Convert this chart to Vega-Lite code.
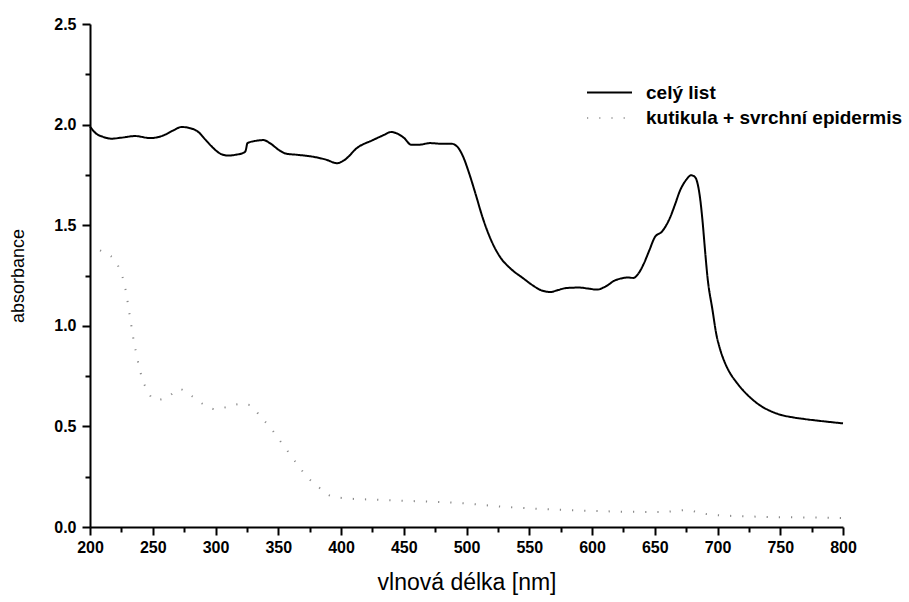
{
  "$schema": "https://vega.github.io/schema/vega-lite/v6.json",
  "width": 753,
  "height": 503,
  "autosize": "none",
  "padding": {"left": 90, "top": 24, "right": 66, "bottom": 75},
  "background": "white",
  "config": {
    "view": {"stroke": null},
    "font": "Liberation Sans"
  },
  "data": {
    "values": [
      {"s": "celý list", "nm": 200, "a": 1.99},
      {"s": "celý list", "nm": 205, "a": 1.955},
      {"s": "celý list", "nm": 210, "a": 1.94},
      {"s": "celý list", "nm": 217, "a": 1.93},
      {"s": "celý list", "nm": 225, "a": 1.935},
      {"s": "celý list", "nm": 236, "a": 1.943},
      {"s": "celý list", "nm": 248, "a": 1.933},
      {"s": "celý list", "nm": 258, "a": 1.945},
      {"s": "celý list", "nm": 266, "a": 1.97},
      {"s": "celý list", "nm": 273, "a": 1.988},
      {"s": "celý list", "nm": 280, "a": 1.982},
      {"s": "celý list", "nm": 286, "a": 1.965},
      {"s": "celý list", "nm": 292, "a": 1.925},
      {"s": "celý list", "nm": 298, "a": 1.885},
      {"s": "celý list", "nm": 304, "a": 1.855},
      {"s": "celý list", "nm": 310, "a": 1.846},
      {"s": "celý list", "nm": 316, "a": 1.85},
      {"s": "celý list", "nm": 323, "a": 1.862},
      {"s": "celý list", "nm": 324, "a": 1.87},
      {"s": "celý list", "nm": 325.5, "a": 1.908},
      {"s": "celý list", "nm": 331, "a": 1.918},
      {"s": "celý list", "nm": 338, "a": 1.923},
      {"s": "celý list", "nm": 344, "a": 1.905},
      {"s": "celý list", "nm": 350, "a": 1.876},
      {"s": "celý list", "nm": 356, "a": 1.856},
      {"s": "celý list", "nm": 365, "a": 1.85},
      {"s": "celý list", "nm": 378, "a": 1.84},
      {"s": "celý list", "nm": 388, "a": 1.826},
      {"s": "celý list", "nm": 397, "a": 1.808},
      {"s": "celý list", "nm": 403, "a": 1.825},
      {"s": "celý list", "nm": 413, "a": 1.885},
      {"s": "celý list", "nm": 425, "a": 1.922},
      {"s": "celý list", "nm": 433, "a": 1.945},
      {"s": "celý list", "nm": 440, "a": 1.963},
      {"s": "celý list", "nm": 445, "a": 1.955},
      {"s": "celý list", "nm": 450, "a": 1.935},
      {"s": "celý list", "nm": 456, "a": 1.9},
      {"s": "celý list", "nm": 462, "a": 1.9},
      {"s": "celý list", "nm": 471, "a": 1.908},
      {"s": "celý list", "nm": 480, "a": 1.905},
      {"s": "celý list", "nm": 488, "a": 1.905},
      {"s": "celý list", "nm": 493, "a": 1.888},
      {"s": "celý list", "nm": 497, "a": 1.845},
      {"s": "celý list", "nm": 502, "a": 1.76},
      {"s": "celý list", "nm": 507, "a": 1.66},
      {"s": "celý list", "nm": 513, "a": 1.535},
      {"s": "celý list", "nm": 520, "a": 1.42},
      {"s": "celý list", "nm": 527, "a": 1.34},
      {"s": "celý list", "nm": 535, "a": 1.285},
      {"s": "celý list", "nm": 545, "a": 1.237},
      {"s": "celý list", "nm": 553, "a": 1.2},
      {"s": "celý list", "nm": 559, "a": 1.178},
      {"s": "celý list", "nm": 567, "a": 1.168},
      {"s": "celý list", "nm": 573, "a": 1.178},
      {"s": "celý list", "nm": 580, "a": 1.188},
      {"s": "celý list", "nm": 590, "a": 1.19},
      {"s": "celý list", "nm": 597, "a": 1.185},
      {"s": "celý list", "nm": 604, "a": 1.18},
      {"s": "celý list", "nm": 612, "a": 1.2},
      {"s": "celý list", "nm": 618, "a": 1.225},
      {"s": "celý list", "nm": 623, "a": 1.235},
      {"s": "celý list", "nm": 628, "a": 1.24},
      {"s": "celý list", "nm": 633, "a": 1.238},
      {"s": "celý list", "nm": 637, "a": 1.26},
      {"s": "celý list", "nm": 641, "a": 1.305},
      {"s": "celý list", "nm": 646, "a": 1.38},
      {"s": "celý list", "nm": 650, "a": 1.44},
      {"s": "celý list", "nm": 656, "a": 1.47},
      {"s": "celý list", "nm": 662, "a": 1.535},
      {"s": "celý list", "nm": 666, "a": 1.6},
      {"s": "celý list", "nm": 670, "a": 1.67},
      {"s": "celý list", "nm": 675, "a": 1.725},
      {"s": "celý list", "nm": 679, "a": 1.748},
      {"s": "celý list", "nm": 682, "a": 1.74},
      {"s": "celý list", "nm": 684, "a": 1.71},
      {"s": "celý list", "nm": 686, "a": 1.64},
      {"s": "celý list", "nm": 688, "a": 1.526},
      {"s": "celý list", "nm": 690, "a": 1.38},
      {"s": "celý list", "nm": 692, "a": 1.243},
      {"s": "celý list", "nm": 696, "a": 1.079},
      {"s": "celý list", "nm": 699, "a": 0.96},
      {"s": "celý list", "nm": 702, "a": 0.885},
      {"s": "celý list", "nm": 706, "a": 0.815},
      {"s": "celý list", "nm": 710, "a": 0.765},
      {"s": "celý list", "nm": 715, "a": 0.72},
      {"s": "celý list", "nm": 720, "a": 0.682},
      {"s": "celý list", "nm": 728, "a": 0.633},
      {"s": "celý list", "nm": 735, "a": 0.6},
      {"s": "celý list", "nm": 742, "a": 0.577},
      {"s": "celý list", "nm": 750, "a": 0.558},
      {"s": "celý list", "nm": 760, "a": 0.545},
      {"s": "celý list", "nm": 770, "a": 0.536},
      {"s": "celý list", "nm": 785, "a": 0.525},
      {"s": "celý list", "nm": 800, "a": 0.515},
      {"s": "kutikula + svrchní epidermis", "nm": 208, "a": 1.375},
      {"s": "kutikula + svrchní epidermis", "nm": 214, "a": 1.355},
      {"s": "kutikula + svrchní epidermis", "nm": 219, "a": 1.332},
      {"s": "kutikula + svrchní epidermis", "nm": 224, "a": 1.275},
      {"s": "kutikula + svrchní epidermis", "nm": 227, "a": 1.218},
      {"s": "kutikula + svrchní epidermis", "nm": 229, "a": 1.158},
      {"s": "kutikula + svrchní epidermis", "nm": 230.5, "a": 1.098},
      {"s": "kutikula + svrchní epidermis", "nm": 232, "a": 1.039},
      {"s": "kutikula + svrchní epidermis", "nm": 233.5, "a": 0.979},
      {"s": "kutikula + svrchní epidermis", "nm": 235, "a": 0.919},
      {"s": "kutikula + svrchní epidermis", "nm": 237, "a": 0.86},
      {"s": "kutikula + svrchní epidermis", "nm": 239, "a": 0.8},
      {"s": "kutikula + svrchní epidermis", "nm": 241.5, "a": 0.74},
      {"s": "kutikula + svrchní epidermis", "nm": 245.5, "a": 0.68},
      {"s": "kutikula + svrchní epidermis", "nm": 252, "a": 0.631},
      {"s": "kutikula + svrchní epidermis", "nm": 262, "a": 0.646},
      {"s": "kutikula + svrchní epidermis", "nm": 271, "a": 0.686},
      {"s": "kutikula + svrchní epidermis", "nm": 281, "a": 0.651},
      {"s": "kutikula + svrchní epidermis", "nm": 290, "a": 0.611},
      {"s": "kutikula + svrchní epidermis", "nm": 300, "a": 0.586},
      {"s": "kutikula + svrchní epidermis", "nm": 309, "a": 0.596},
      {"s": "kutikula + svrchní epidermis", "nm": 319, "a": 0.611},
      {"s": "kutikula + svrchní epidermis", "nm": 327.5, "a": 0.606},
      {"s": "kutikula + svrchní epidermis", "nm": 336, "a": 0.547},
      {"s": "kutikula + svrchní epidermis", "nm": 344, "a": 0.492},
      {"s": "kutikula + svrchní epidermis", "nm": 351, "a": 0.432},
      {"s": "kutikula + svrchní epidermis", "nm": 358, "a": 0.373},
      {"s": "kutikula + svrchní epidermis", "nm": 365, "a": 0.313},
      {"s": "kutikula + svrchní epidermis", "nm": 373, "a": 0.249},
      {"s": "kutikula + svrchní epidermis", "nm": 382, "a": 0.199},
      {"s": "kutikula + svrchní epidermis", "nm": 390, "a": 0.159},
      {"s": "kutikula + svrchní epidermis", "nm": 401, "a": 0.144},
      {"s": "kutikula + svrchní epidermis", "nm": 430, "a": 0.135},
      {"s": "kutikula + svrchní epidermis", "nm": 457, "a": 0.129},
      {"s": "kutikula + svrchní epidermis", "nm": 495, "a": 0.119},
      {"s": "kutikula + svrchní epidermis", "nm": 533, "a": 0.099},
      {"s": "kutikula + svrchní epidermis", "nm": 561, "a": 0.089},
      {"s": "kutikula + svrchní epidermis", "nm": 600, "a": 0.08},
      {"s": "kutikula + svrchní epidermis", "nm": 640, "a": 0.075},
      {"s": "kutikula + svrchní epidermis", "nm": 657, "a": 0.075},
      {"s": "kutikula + svrchní epidermis", "nm": 676, "a": 0.084},
      {"s": "kutikula + svrchní epidermis", "nm": 686, "a": 0.07},
      {"s": "kutikula + svrchní epidermis", "nm": 697, "a": 0.06},
      {"s": "kutikula + svrchní epidermis", "nm": 740, "a": 0.05},
      {"s": "kutikula + svrchní epidermis", "nm": 794, "a": 0.045},
      {"s": "kutikula + svrchní epidermis", "nm": 800, "a": 0.044}
    ]
  },
  "mark": {"type": "line", "interpolate": "monotone", "strokeWidth": 2},
  "encoding": {
    "x": {
      "field": "nm", "type": "quantitative",
      "scale": {"domain": [200, 800], "nice": false, "zero": false},
      "axis": {
        "title": "vlnová délka [nm]",
        "titleFont": "Liberation Sans", "titleFontSize": 23, "titleFontWeight": "normal", "titleColor": "black",
        "titlePadding": 16,
        "values": [200,225,250,275,300,325,350,375,400,425,450,475,500,525,550,575,600,625,650,675,700,725,750,775,800],
        "labelExpr": "datum.value % 50 === 0 ? format(datum.value, 'd') : ''",
        "labelOverlap": false,
        "labelFont": "Liberation Sans", "labelFontSize": 16, "labelFontWeight": "bold", "labelColor": "black",
        "labelPadding": 4,
        "labelFlush": false,
        "domainColor": "black", "domainWidth": 2,
        "tickColor": "black", "tickWidth": 2,
        "tickSize": {"condition": {"test": "datum.value % 50 === 0", "value": 8}, "value": 5},
        "grid": false
      }
    },
    "y": {
      "field": "a", "type": "quantitative",
      "scale": {"domain": [0, 2.5], "nice": false},
      "axis": {
        "title": "absorbance",
        "titleFont": "Liberation Sans", "titleFontSize": 18, "titleFontWeight": "normal", "titleColor": "black",
        "titlePadding": 26,
        "values": [0,0.25,0.5,0.75,1,1.25,1.5,1.75,2,2.25,2.5],
        "labelExpr": "(datum.value * 2) % 1 === 0 ? format(datum.value, '.1f') : ''",
        "labelOverlap": false,
        "labelFont": "Liberation Sans", "labelFontSize": 16, "labelFontWeight": "bold", "labelColor": "black",
        "labelPadding": 6,
        "labelFlush": false,
        "domainColor": "black", "domainWidth": 2,
        "tickColor": "black", "tickWidth": 2,
        "tickSize": {"condition": {"test": "(datum.value * 2) % 1 === 0", "value": 8}, "value": 5},
        "grid": false
      }
    },
    "color": {
      "field": "s", "type": "nominal",
      "scale": {"domain": ["celý list", "kutikula + svrchní epidermis"], "range": ["black", "#8a8a8a"]},
      "legend": {
        "title": null,
        "orient": "none", "legendX": 507, "legendY": 56,
        "symbolType": "M-2,0H2", "symbolSize": 506, "symbolStrokeWidth": 2,
        "labelFont": "Liberation Sans", "labelFontSize": 19, "labelFontWeight": "bold", "labelColor": "black",
        "labelOffset": 24, "labelLimit": 400,
        "rowPadding": 3
      }
    },
    "strokeDash": {
      "field": "s", "type": "nominal",
      "scale": {"domain": ["celý list", "kutikula + svrchní epidermis"], "range": [[1, 0], [1.2, 11]]},
      "legend": null
    },
    "strokeWidth": {
      "field": "s", "type": "nominal",
      "scale": {"domain": ["celý list", "kutikula + svrchní epidermis"], "range": [2.2, 1.3]},
      "legend": null
    }
  }
}
